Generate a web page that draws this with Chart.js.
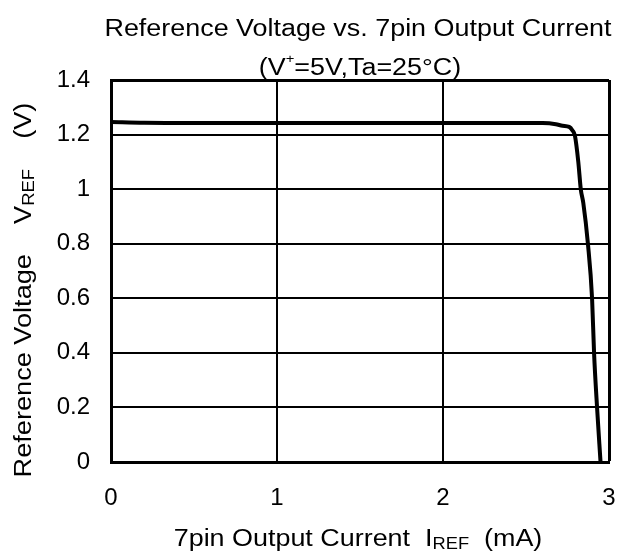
<!DOCTYPE html>
<html>
<head>
<meta charset="utf-8">
<script src="https://cdn.jsdelivr.net/npm/chart.js@4.4.0/dist/chart.umd.min.js"></script>
<style>
  html, body { margin: 0; padding: 0; background: #fff; overflow: hidden; }
  #wrap { width: 617px; height: 555px; }
</style>
</head>
<body>
<div id="wrap"><canvas id="myChart" width="617" height="555"></canvas></div>
<script>
// values
const current = [0, 0.2, 0.5, 1.0, 1.5, 2.0, 2.5, 2.6, 2.68, 2.72, 2.76, 2.78, 2.795, 2.815, 2.83, 2.845, 2.873, 2.898, 2.91, 2.928, 2.949];
const voltage = [1.246, 1.243, 1.242, 1.242, 1.242, 1.242, 1.242, 1.242, 1.238, 1.232, 1.228, 1.215, 1.195, 1.1, 1.0, 0.95, 0.8, 0.6, 0.4, 0.2, 0];
const xTicks = ['0', '1', '2', '3'];
const yTicks = ['0', '0.2', '0.4', '0.6', '0.8', '1', '1.2', '1.4'];

const FONT = '"Liberation Sans", Arial, sans-serif';

// draws a row of text pieces (some smaller and shifted for sub/superscript),
// centred on cx, cy and stretched sideways by k
function richText(c, parts, cx, cy, size, k) {
    let widths = parts.map(p => {
        c.font = `${size * (p.s || 1)}px ${FONT}`;
        return c.measureText(p.t).width;
    });
    let total = widths.reduce((a, b) => a + b, 0);
    c.save();
    c.translate(cx, cy);
    c.scale(k, 1);
    let x = -total / 2;
    c.textBaseline = 'middle';
    c.textAlign = 'left';
    parts.forEach((p, i) => {
        c.font = `${size * (p.s || 1)}px ${FONT}`;
        c.fillText(p.t, x, p.dy || 0);
        x += widths[i];
    });
    c.restore();
}

const labelsPlugin = {
    id: 'labels',
    afterDraw(chart) {
        const c = chart.ctx, a = chart.chartArea;
        const mid = (a.left + a.right) / 2;
        c.save();
        c.fillStyle = '#000';
        richText(c, [{t: 'Reference Voltage vs. 7pin Output Current'}], mid - 2, 30, 23, 1.17);
        richText(c, [{t: '(V'}, {t: '+', s: 0.55, dy: -9}, {t: '=5V,Ta=25°C)'}], mid, 69, 23, 1.17);
        richText(c, [{t: '7pin Output Current  I'}, {t: 'REF', s: 0.68, dy: 5}, {t: '  (mA)'}], 358, 540, 23, 1.17);
        c.translate(25, 290);
        c.rotate(-Math.PI / 2);
        richText(c, [{t: 'Reference Voltage    V'}, {t: 'REF', s: 0.68, dy: 5}, {t: '    (V)'}], 0, 0, 23, 1.18);
        c.restore();
    }
};

new Chart(document.getElementById('myChart'), {
    type: 'line',
    data: {
        datasets: [{
            data: current.map((x, i) => ({x: x, y: voltage[i]})),
            borderColor: '#000',
            borderWidth: 4,
            pointRadius: 0,
            fill: false,
            cubicInterpolationMode: 'monotone'
        }]
    },
    options: {
        responsive: false,
        animation: false,
        layout: {padding: {left: 0, top: 80, right: 8, bottom: 0}},
        plugins: {legend: {display: false}, tooltip: {enabled: false}},
        scales: {
            x: {
                type: 'linear', min: 0, max: 3,
                ticks: {
                    stepSize: 1, color: '#000', padding: 22,
                    font: {size: 24, family: FONT},
                    callback: (v) => xTicks[Math.round(v)]
                },
                grid: {
                    color: '#000', drawTicks: false,
                    lineWidth: (ctx) => ctx.tick && ctx.tick.value === 3 ? 3 : 2
                },
                border: {color: '#000', width: 3},
                afterFit: (s) => { s.height = 93; s.paddingLeft = 0; s.paddingRight = 0; }
            },
            y: {
                min: 0, max: 1.4,
                ticks: {
                    stepSize: 0.2, color: '#000', padding: 21,
                    font: {size: 24, family: FONT},
                    callback: (v) => yTicks[Math.round(v * 5)]
                },
                grid: {
                    color: '#000', drawTicks: false,
                    lineWidth: (ctx) => ctx.tick && Math.abs(ctx.tick.value - 1.4) < 1e-6 ? 3 : 2
                },
                border: {color: '#000', width: 3},
                afterFit: (s) => { s.width = 111; s.paddingTop = 0; s.paddingBottom = 0; }
            }
        }
    },
    plugins: [labelsPlugin]
});
</script>
</body>
</html>
